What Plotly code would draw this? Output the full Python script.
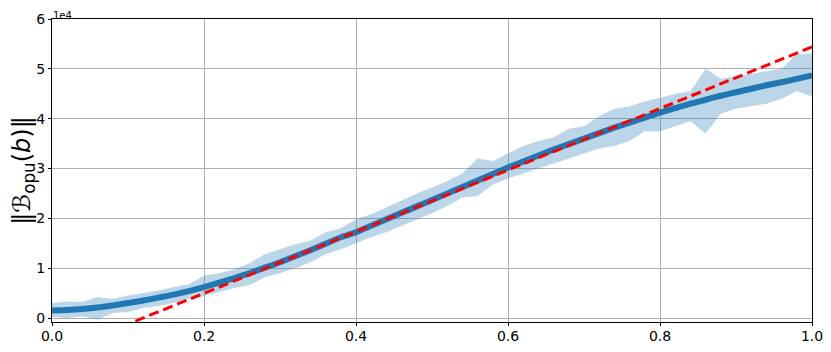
import numpy as np
import plotly.graph_objects as go

# budget fraction b (51 samples)
b = np.linspace(0.0, 1.0, 51)

# values in units of 1e4
mean = [0.15, 0.16, 0.18, 0.21, 0.25, 0.30, 0.35, 0.41, 0.47, 0.54,
        0.62, 0.71, 0.80, 0.90, 1.01, 1.12, 1.24, 1.36, 1.49, 1.62,
        1.72, 1.85, 1.98, 2.11, 2.24, 2.37, 2.50, 2.63, 2.76, 2.89,
        3.02, 3.14, 3.26, 3.38, 3.49, 3.60, 3.71, 3.82, 3.92, 4.02,
        4.12, 4.21, 4.30, 4.38, 4.46, 4.53, 4.60, 4.67, 4.73, 4.80, 4.87]
upper = [0.30, 0.33, 0.32, 0.42, 0.38, 0.45, 0.50, 0.55, 0.62, 0.68,
         0.85, 0.90, 0.98, 1.10, 1.28, 1.38, 1.48, 1.55, 1.72, 1.80,
         1.98, 2.08, 2.22, 2.35, 2.50, 2.62, 2.75, 2.90, 3.20, 3.15,
         3.30, 3.45, 3.55, 3.62, 3.80, 3.85, 4.05, 4.20, 4.25, 4.35,
         4.42, 4.50, 4.55, 5.00, 4.80, 4.85, 4.90, 4.95, 5.00, 5.30, 5.30]
lower = [0.02, 0.00, 0.03, -0.03, 0.10, 0.12, 0.20, 0.24, 0.30, 0.38,
         0.44, 0.52, 0.60, 0.66, 0.82, 0.90, 1.00, 1.12, 1.28, 1.38,
         1.50, 1.62, 1.72, 1.85, 1.98, 2.10, 2.25, 2.42, 2.45, 2.68,
         2.80, 2.90, 3.00, 3.10, 3.20, 3.30, 3.40, 3.45, 3.55, 3.75,
         3.75, 3.85, 3.95, 3.70, 4.10, 4.20, 4.25, 4.30, 4.40, 4.55, 4.45]

# linear fit (units of 1e4)
fit_slope = 6.18
fit_intercept = -0.74
fit = fit_slope * b + fit_intercept

fig = go.Figure()
fig.add_trace(go.Scatter(x=b, y=upper, mode='lines', line=dict(width=0),
                         showlegend=False, hoverinfo='skip'))
fig.add_trace(go.Scatter(x=b, y=lower, mode='lines', line=dict(width=0),
                         fill='tonexty', fillcolor='rgba(31,119,180,0.3)',
                         showlegend=False, hoverinfo='skip'))
fig.add_trace(go.Scatter(x=b, y=mean, mode='lines',
                         line=dict(color='#1f77b4', width=6, shape='spline',
                                   smoothing=0.6),
                         showlegend=False))
fig.add_trace(go.Scatter(x=b, y=fit, mode='lines',
                         line=dict(color='red', width=3, dash='10px,5px'),
                         showlegend=False))

axis_style = dict(showline=True, linecolor='black', linewidth=1, mirror=True,
                  ticks='outside', ticklen=3, tickcolor='black',
                  showgrid=True, gridcolor='#b0b0b0', gridwidth=1,
                  zeroline=False, automargin=False, ticklabeloverflow='allow',
                  tickfont=dict(size=14, color='black'))

# page body has an 8px default margin, so the figure is sized to fit the window
fig.update_layout(
    width=815, height=336,
    margin=dict(l=44, r=11, t=11, b=22),
    plot_bgcolor='white', paper_bgcolor='white',
    font=dict(family='DejaVu Sans', color='black'),
    xaxis=dict(range=[0, 1], tickvals=[0, 0.2, 0.4, 0.6, 0.8, 1.0],
               ticktext=['0.0', '0.2', '0.4', '0.6', '0.8', '1.0'],
               ticklabelstandoff=-2, **axis_style),
    yaxis=dict(range=[-0.08, 6.0], tickvals=[0, 1, 2, 3, 4, 5, 6],
               title=dict(text='‖ℬ<sub>opu</sub>(<i>b</i>)‖', font=dict(size=24),
                          standoff=2),
               **axis_style),
    annotations=[dict(text='1e4', xref='paper', yref='paper', x=0, y=1,
                      xanchor='left', yanchor='bottom', showarrow=False,
                      borderpad=0, yshift=-3,
                      font=dict(size=10, color='black'))],
)

fig.write_html("out.html")
